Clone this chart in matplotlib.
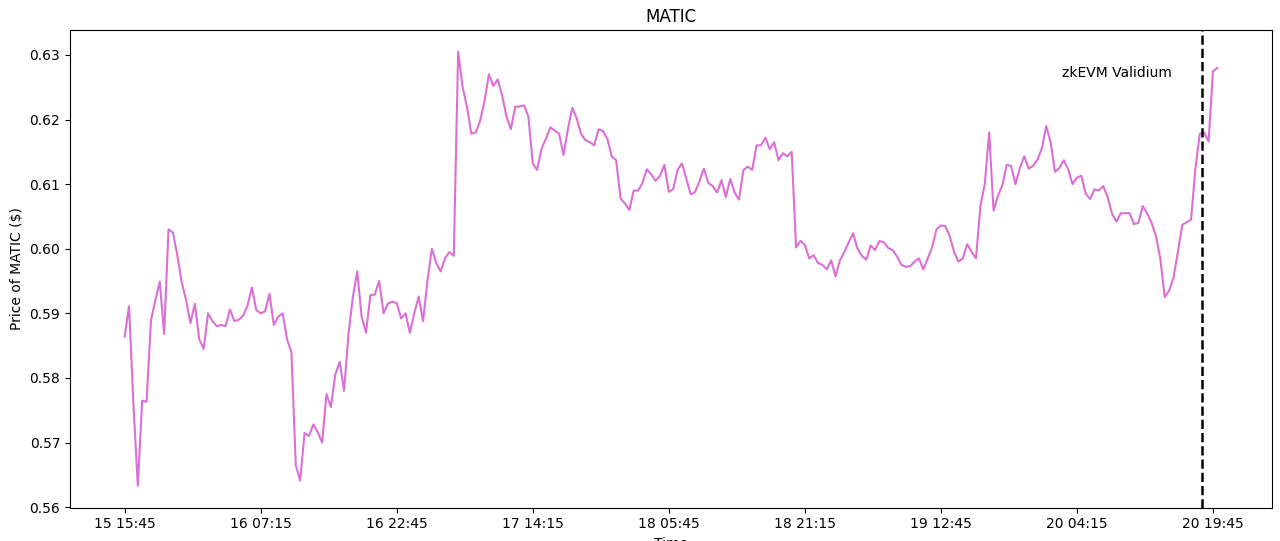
import matplotlib
matplotlib.use("Agg")
import matplotlib.pyplot as plt
import matplotlib.dates as mdates
import pandas as pd
import numpy as np

# ---- data (30-minute MATIC prices) ----
start_time = "2023-06-15 15:45"
freq = "30min"
prices = [
    0.5864, 0.5911, 0.5760, 0.5633, 0.5765, 0.5763, 0.5889, 0.5920, 0.5949, 0.5868,
    0.6030, 0.6025, 0.5990, 0.5948, 0.5921, 0.5885, 0.5915, 0.5860, 0.5845, 0.5900,
    0.5888, 0.5880, 0.5882, 0.5880, 0.5906, 0.5888, 0.5890, 0.5896, 0.5912, 0.5940,
    0.5905, 0.5900, 0.5903, 0.5930, 0.5882, 0.5895, 0.5900, 0.5860, 0.5840, 0.5665,
    0.5641, 0.5715, 0.5710, 0.5728, 0.5716, 0.5700, 0.5775, 0.5755, 0.5805, 0.5825,
    0.5780, 0.5867, 0.5925, 0.5965, 0.5895, 0.5870, 0.5928, 0.5929, 0.5950, 0.5900,
    0.5915, 0.5918, 0.5916, 0.5892, 0.5900, 0.5870, 0.5900, 0.5926, 0.5888, 0.5950,
    0.6000, 0.5978, 0.5965, 0.5985, 0.5995, 0.5989, 0.6305, 0.6251, 0.6220, 0.6178,
    0.6180, 0.6198, 0.6228, 0.6270, 0.6252, 0.6262, 0.6238, 0.6205, 0.6185, 0.6220,
    0.6220, 0.6222, 0.6205, 0.6132, 0.6122, 0.6155, 0.6170, 0.6188, 0.6183, 0.6178,
    0.6145, 0.6185, 0.6218, 0.6202, 0.6178, 0.6168, 0.6165, 0.6160, 0.6185, 0.6182,
    0.6170, 0.6143, 0.6137, 0.6078, 0.6070, 0.6060, 0.6090, 0.6090, 0.6102, 0.6123,
    0.6115, 0.6105, 0.6113, 0.6130, 0.6088, 0.6092, 0.6122, 0.6132, 0.6108, 0.6084,
    0.6088, 0.6105, 0.6124, 0.6102, 0.6097, 0.6087, 0.6106, 0.6080, 0.6108, 0.6087,
    0.6076, 0.6122, 0.6127, 0.6122, 0.6160, 0.6160, 0.6172, 0.6154, 0.6165, 0.6137,
    0.6148, 0.6143, 0.6150, 0.6002, 0.6012, 0.6006, 0.5985, 0.5990, 0.5978, 0.5975,
    0.5968, 0.5982, 0.5957, 0.5982, 0.5995, 0.6010, 0.6024, 0.6000, 0.5989, 0.5983,
    0.6005, 0.5998, 0.6012, 0.6010, 0.6001, 0.5998, 0.5988, 0.5975, 0.5972, 0.5973,
    0.5980, 0.5985, 0.5968, 0.5985, 0.6002, 0.6030, 0.6036, 0.6035, 0.6020, 0.5995,
    0.5980, 0.5985, 0.6007, 0.5995, 0.5985, 0.6066, 0.6100, 0.6180, 0.6059, 0.6082,
    0.6098, 0.6130, 0.6128, 0.6100, 0.6125, 0.6143, 0.6124, 0.6128, 0.6138, 0.6155,
    0.6190, 0.6165, 0.6119, 0.6125, 0.6137, 0.6123, 0.6100, 0.6110, 0.6113, 0.6085,
    0.6077, 0.6092, 0.6090, 0.6097, 0.6080, 0.6054, 0.6042, 0.6055, 0.6055, 0.6055,
    0.6038, 0.6040, 0.6066, 0.6055, 0.6040, 0.6020, 0.5985, 0.5925, 0.5935, 0.5955,
    0.5995, 0.6037, 0.6041, 0.6045, 0.6124, 0.6178, 0.6180, 0.6166, 0.6275, 0.6280,
]
event_time = "2023-06-20 18:30"
event_label = "zkEVM Validium"
event_label_y = 0.6272
title = "MATIC"
ylabel = "Price of MATIC ($)"
xlabel = "Time"
tick_step_hours = 15.5
n_ticks = 9

times = pd.date_range(start=start_time, periods=len(prices), freq=freq)

fig = plt.figure(figsize=(12.8, 5.41), dpi=100)
ax = fig.add_axes([70 / 1280, 1 - 507.5 / 541, (1272 - 70) / 1280, (507.5 - 30) / 541])

ax.plot(times, prices, color="orchid", linewidth=1.5)
ev = pd.Timestamp(event_time)
ax.axvline(ev, color="black", linestyle="--", linewidth=1.8)
ax.text(ev - pd.Timedelta(hours=3.4), event_label_y, event_label,
        ha="right", va="center", fontsize=10)

ticks = [pd.Timestamp(start_time) + pd.Timedelta(hours=tick_step_hours * i) for i in range(n_ticks)]
ax.set_xticks(ticks)
ax.xaxis.set_major_formatter(mdates.DateFormatter("%d %H:%M"))
ax.set_yticks([0.56, 0.57, 0.58, 0.59, 0.60, 0.61, 0.62, 0.63])

ax.set_title(title, fontsize=12)
ax.set_ylabel(ylabel)
ax.set_xlabel(xlabel)

fig.savefig("out.png", dpi=100)
